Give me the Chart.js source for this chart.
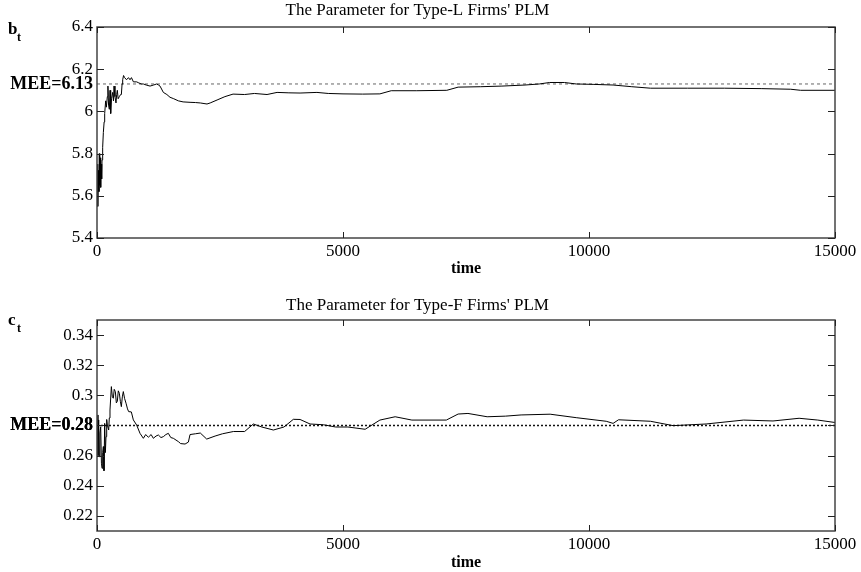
<!DOCTYPE html>
<html>
<head>
<meta charset="utf-8">
<script src="https://cdn.jsdelivr.net/npm/chart.js@4.4.1/dist/chart.umd.min.js"></script>
<style>
  body { margin: 0; background: #fff; }
  .box { position: relative; width: 861px; height: 286px; }
</style>
</head>
<body>
<div class="box"><canvas id="chartL"></canvas></div>
<div class="box"><canvas id="chartF"></canvas></div>
<script>
// x axis
var xTicks = [0, 5000, 10000, 15000];

// Type-L firms: parameter b_t
var bTicks = [5.4, 5.6, 5.8, 6, 6.2, 6.4];
var bMEE = 6.13;
var bTime = [0, 10, 20, 30, 40, 47, 55, 65, 75, 85, 95, 102, 115, 129, 145, 156, 176, 190, 210, 222,
  235, 251, 265, 278, 295, 318, 335, 346, 365, 386, 400, 413, 430, 454, 480, 495, 510, 522, 540, 562,
  600, 640, 671, 700, 740, 806, 850, 900, 942, 1000, 1078, 1150, 1213, 1250, 1281, 1349, 1420, 1484, 1560, 1654,
  1750, 1891, 2000, 2100, 2236, 2300, 2440, 2600, 2765, 3000, 3200, 3456, 3660, 3900, 4127, 4470, 4700, 5000, 5400, 5750,
  5980, 6500, 7110, 7340, 7800, 8230, 8700, 8990, 9200, 9500, 9740, 10100, 10490, 10870, 11250, 12000, 12750, 13500, 14100, 14300,
  15000];
var bValues = [5.75, 5.6, 5.55, 5.72, 5.62, 5.8, 5.65, 5.78, 5.64, 5.75, 5.68, 5.77, 5.83, 5.9, 5.95, 5.99, 6.05, 6.02, 6.07, 6.12,
  6.03, 6.01, 6.1, 5.99, 6.06, 6.09, 6.05, 6.12, 6.07, 6.04, 6.08, 6.1, 6.06, 6.07, 6.08, 6.08, 6.13, 6.15, 6.17, 6.16,
  6.15, 6.16, 6.15, 6.16, 6.14, 6.14, 6.135, 6.13, 6.13, 6.125, 6.12, 6.125, 6.13, 6.125, 6.12, 6.09, 6.08, 6.067, 6.06, 6.05,
  6.045, 6.043, 6.042, 6.04, 6.035, 6.04, 6.054, 6.07, 6.082, 6.08, 6.085, 6.08, 6.09, 6.088, 6.087, 6.09, 6.085, 6.083, 6.082, 6.083,
  6.098, 6.098, 6.1, 6.115, 6.117, 6.12, 6.125, 6.13, 6.137, 6.137, 6.13, 6.128, 6.125, 6.117, 6.11, 6.11, 6.11, 6.108, 6.105, 6.1,
  6.1];

// Type-F firms: parameter c_t
var cTicks = [0.22, 0.24, 0.26, 0.28, 0.3, 0.32, 0.34];
var cMEE = 0.28;
var cTime = [0, 20, 34, 47, 60, 75, 90, 102, 115, 129, 142, 156, 170, 183, 197, 210, 237, 250, 264, 292,
  312, 332, 350, 373, 393, 413, 433, 454, 475, 495, 515, 535, 560, 590, 620, 644, 698, 739, 806, 874,
  942, 990, 1044, 1100, 1145, 1200, 1247, 1300, 1349, 1400, 1450, 1500, 1552, 1654, 1700, 1790, 1857, 1891, 2000, 2100,
  2230, 2400, 2550, 2772, 3000, 3178, 3350, 3585, 3800, 3991, 4127, 4330, 4600, 4850, 5100, 5450, 5750, 6060, 6400, 7100,
  7340, 7540, 7930, 8300, 8620, 9210, 9740, 10350, 10490, 10600, 11250, 11710, 12380, 13140, 13740, 14270, 14650, 15000];
var cValues = [0.287, 0.26, 0.2837, 0.2593, 0.275, 0.2792, 0.255, 0.2516, 0.262, 0.266, 0.25, 0.2814, 0.262, 0.2726, 0.284, 0.2803, 0.277, 0.285, 0.2903, 0.3058,
  0.299, 0.2981, 0.304, 0.3025, 0.295, 0.296, 0.303, 0.3014, 0.296, 0.2925, 0.299, 0.3025, 0.298, 0.2948, 0.291, 0.2892, 0.289, 0.2837, 0.2803, 0.2748,
  0.2715, 0.274, 0.2722, 0.274, 0.2715, 0.273, 0.2737, 0.272, 0.2726, 0.274, 0.2748, 0.272, 0.2715, 0.2693, 0.268, 0.2677, 0.269, 0.274, 0.2745, 0.275,
  0.271, 0.273, 0.2745, 0.276, 0.276, 0.281, 0.279, 0.277, 0.279, 0.2841, 0.284, 0.281, 0.2805, 0.279, 0.279, 0.2775, 0.2836, 0.2858, 0.2836, 0.2836,
  0.2876, 0.288, 0.2858, 0.2862, 0.287, 0.2875, 0.2852, 0.2828, 0.2814, 0.2838, 0.2828, 0.2799, 0.281, 0.2836, 0.283, 0.2848, 0.2836, 0.282];

var serif = "'Liberation Serif', 'Times New Roman', serif";

// frame, inward tick marks and the b_t / c_t label
var framePlugin = {
  id: 'frame',
  afterDraw: function(chart, args, opts){
    var ctx = chart.ctx;
    var a = chart.chartArea;
    var xs = chart.scales.x, ys = chart.scales.y;
    ctx.save();
    ctx.strokeStyle = '#444';
    ctx.lineWidth = 1.5;
    ctx.strokeRect(a.left, a.top, a.right - a.left, a.bottom - a.top);
    ctx.lineWidth = 1;
    ctx.strokeStyle = '#222';
    ctx.beginPath();
    xTicks.forEach(function(v){
      var px = Math.round(xs.getPixelForValue(v)) + 0.5;
      ctx.moveTo(px, a.bottom); ctx.lineTo(px, a.bottom - 6);
      ctx.moveTo(px, a.top); ctx.lineTo(px, a.top + 6);
    });
    opts.ticks.forEach(function(v){
      var py = Math.round(ys.getPixelForValue(v)) + 0.5;
      ctx.moveTo(a.left, py); ctx.lineTo(a.left + 7, py);
      ctx.moveTo(a.right, py); ctx.lineTo(a.right - 7, py);
    });
    ctx.stroke();
    ctx.fillStyle = '#000';
    ctx.textBaseline = 'alphabetic';
    ctx.font = 'bold 17px ' + serif;
    ctx.fillText(opts.sym, 8, opts.labelY);
    ctx.font = 'bold 12px ' + serif;
    ctx.fillText(opts.sub, 17, opts.labelY + 7);
    ctx.restore();
  }
};

function makeChart(id, title, time, values, ticks, mee, dash, conf){
  var pts = time.map(function(t, i){ return {x: t, y: values[i]}; });
  return new Chart(document.getElementById(id), {
    type: 'line',
    data: {
      datasets: [{
        data: pts,
        borderColor: '#000',
        borderWidth: 1,
        pointRadius: 0,
        tension: 0
      }, {
        data: [{x: xTicks[0], y: mee}, {x: xTicks[xTicks.length - 1], y: mee}],
        borderColor: conf.dashColor,
        borderWidth: conf.dashWidth,
        borderDash: dash,
        pointRadius: 0
      }]
    },
    plugins: [framePlugin],
    options: {
      responsive: true,
      maintainAspectRatio: false,
      animation: false,
      layout: { padding: { left: 0, right: 26, top: 0, bottom: 0 } },
      plugins: {
        legend: { display: false },
        tooltip: { enabled: false },
        title: {
          display: true,
          text: title,
          color: '#000',
          font: { family: serif, size: 17, weight: 'normal' },
          padding: conf.titlePad
        },
        frame: { ticks: ticks, sym: conf.sym, sub: 't', labelY: conf.labelY }
      },
      scales: {
        x: {
          type: 'linear',
          min: xTicks[0],
          max: xTicks[xTicks.length - 1],
          grid: { display: false, drawTicks: false },
          border: { display: false },
          afterBuildTicks: function(scale){
            scale.ticks = xTicks.map(function(v){ return {value: v}; });
          },
          afterFit: function(scale){ scale.height = conf.xHeight; },
          ticks: {
            padding: 3,
            maxRotation: 0,
            autoSkip: false,
            color: '#000',
            font: { family: serif, size: 17 },
            callback: function(value){ return String(value); }
          },
          title: {
            display: true,
            text: 'time',
            color: '#000',
            font: { family: serif, size: 16, weight: 'bold' },
            padding: { top: 0, bottom: conf.timePad }
          }
        },
        y: {
          min: conf.yMin,
          max: conf.yMax,
          grid: { display: false, drawTicks: false },
          border: { display: false },
          afterBuildTicks: function(scale){
            scale.ticks = ticks.concat([mee]).sort(function(p, q){ return p - q; })
              .map(function(v){ return {value: v}; });
          },
          afterFit: function(scale){ scale.width = 97; },
          ticks: {
            padding: 4,
            autoSkip: false,
            color: '#000',
            font: function(c){
              if (c.tick && c.tick.value === mee) return { family: serif, size: 18, weight: 'bold' };
              return { family: serif, size: 17 };
            },
            callback: function(value){
              if (value === mee) return 'MEE=' + mee;
              return String(Number(value.toFixed(2)));
            }
          }
        }
      }
    }
  });
}

makeChart('chartL', "The Parameter for Type-L Firms' PLM", bTime, bValues, bTicks, bMEE, [3, 3], {
  yMin: 5.4, yMax: 6.4, xHeight: 48, timePad: 8, labelY: 34, sym: 'b',
  titlePad: { top: 0, bottom: 6.6 }, dashColor: '#666', dashWidth: 1
});
makeChart('chartF', "The Parameter for Type-F Firms' PLM", cTime, cValues, cTicks, cMEE, [2, 2], {
  yMin: 0.21, yMax: 0.35, xHeight: 41, timePad: 0, labelY: 39, sym: 'c',
  titlePad: { top: 9, bottom: 4.6 }, dashColor: '#111', dashWidth: 1.5
});
</script>
</body>
</html>
